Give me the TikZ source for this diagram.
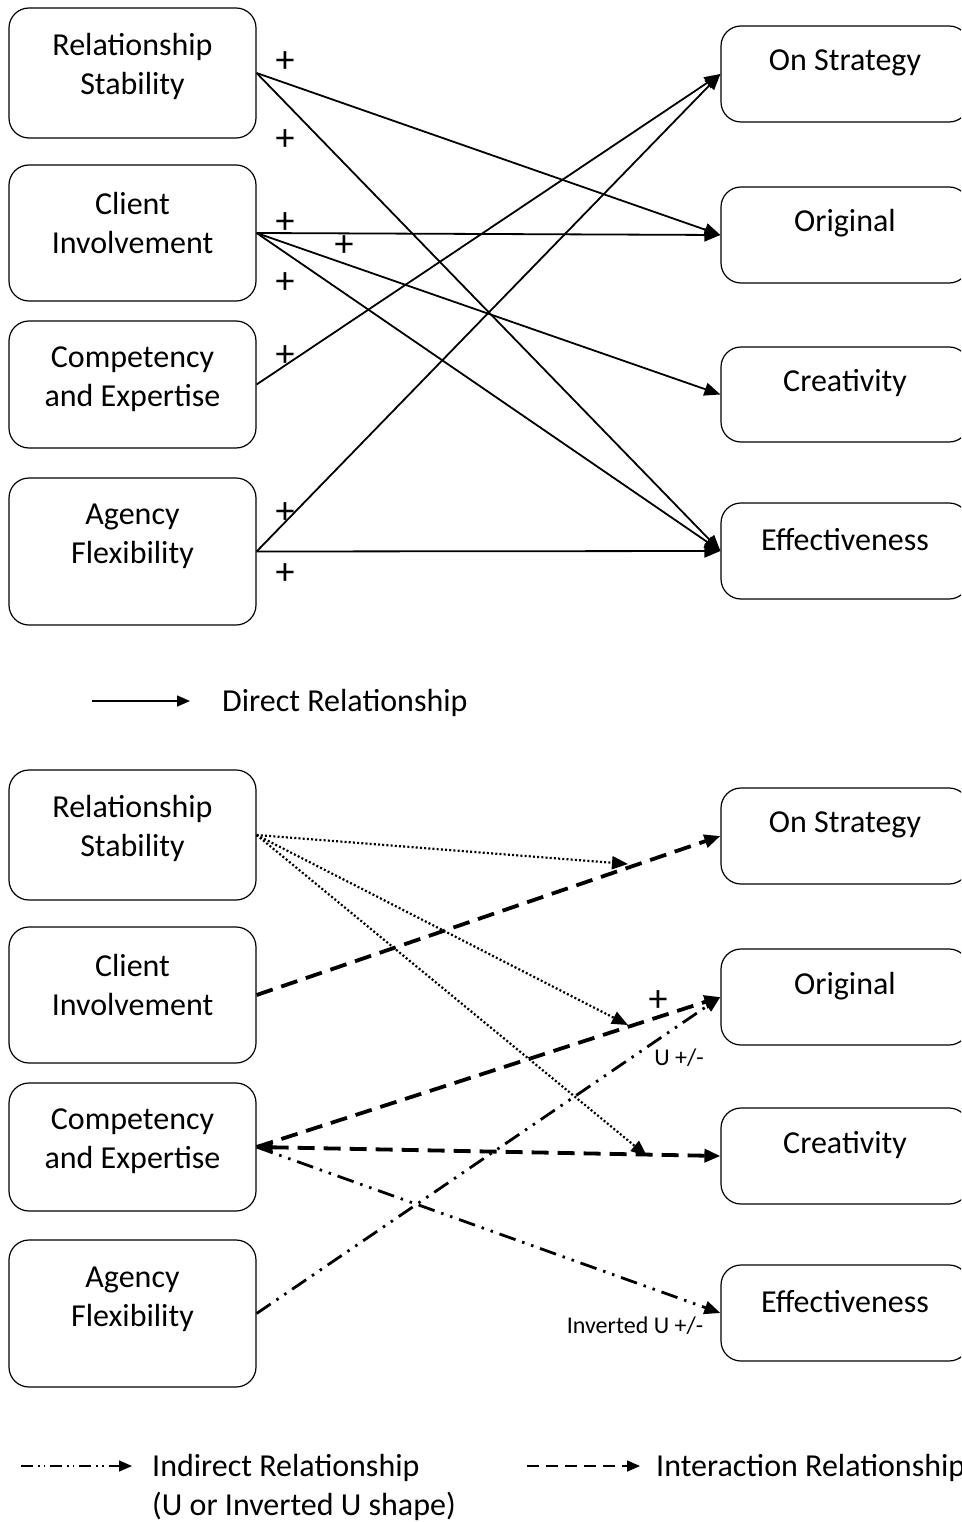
\documentclass[tikz,border=0pt]{standalone}
\usepackage{fontspec}
\setmainfont{Carlito}
\usetikzlibrary{arrows.meta}
\begin{document}
\begin{tikzpicture}[x=1pt,y=-1pt,
  box/.style={draw, line width=1.2pt, rounded corners=20pt, inner sep=0pt},
  lbox/.style={box, minimum width=247pt},
  rbox/.style={box, minimum width=248pt},
  lbl/.style={font=\fontsize{32}{39}\selectfont, align=center, inner sep=0pt},
  pl/.style={font=\fontsize{38}{40}\selectfont, inner sep=0pt},
  sml/.style={font=\fontsize{24}{28}\selectfont, inner sep=0pt},
  tip/.style={-{Triangle[length=16pt,width=13pt]}},
  ltip/.style={-{Triangle[length=13pt,width=11pt]}},
  direct/.style={tip, line width=1.8pt},
  dotrel/.style={tip, line width=2.2pt, dash pattern=on 2pt off 2.2pt},
  interrel/.style={tip, line width=3.8pt, dash pattern=on 17pt off 9pt},
  indirrel/.style={tip, line width=2.8pt, dash pattern=on 17pt off 7pt on 2.5pt off 7pt on 2.5pt off 7pt},
]
\useasboundingbox (0,0) rectangle (961,1522);
\fill[white] (0,0) rectangle (961,1522);
\clip (0,0) rectangle (961,1522);

% ---------- top diagram ----------
\node[lbox, minimum height=130pt] (rs1) at (132.5,73) {};
\node[lbox, minimum height=136pt] (ci1) at (132.5,233) {};
\node[lbox, minimum height=127pt] (ce1) at (132.5,384.5) {};
\node[lbox, minimum height=147pt] (af1) at (132.5,551.5) {};
\node[rbox, minimum height=96pt] (os1) at (845,74) {};
\node[rbox, minimum height=96pt] (or1) at (845,235) {};
\node[rbox, minimum height=95pt] (cr1) at (845,394.5) {};
\node[rbox, minimum height=96pt] (ef1) at (845,551) {};

\node[lbl] (rs1t) at (132.5,66) {Relationship\\Stability};
\node[lbl] (ci1t) at (132.5,223) {Client\\Involvement};
\node[lbl] (ce1t) at (132.5,379) {Competency\\and Expertise};
\node[lbl] (af1t) at (132.5,536) {Agency\\Flexibility};
\node[lbl] (os1t) at (845,62.5) {On Strategy};
\node[lbl] (or1t) at (845,223.5) {Original};
\node[lbl] (cr1t) at (845,383.5) {Creativity};
\node[lbl] (ef1t) at (845,539.5) {Effectiveness};

\draw[direct] (rs1.east) -- (or1.west);
\draw[direct] (rs1.east) -- (ef1.west);
\draw[direct] (ci1.east) -- (or1.west);
\draw[direct] (ci1.east) -- (cr1.west);
\draw[direct] (ci1.east) -- (ef1.west);
\draw[direct] (ce1.east) -- (os1.west);
\draw[direct] (af1.east) -- (os1.west);
\draw[direct] (af1.east) -- (ef1.west);

\node[pl] (p1) at (285,62.5) {+};
\node[pl] (p2) at (285,140.5) {+};
\node[pl] (p3) at (285,223.5) {+};
\node[pl] (p4) at (344,246.5) {+};
\node[pl] (p5) at (285,283.5) {+};
\node[pl] (p6) at (285,356.5) {+};
\node[pl] (p7) at (285,513.5) {+};
\node[pl] (p8) at (285,574.5) {+};

% legend top
\coordinate (lg1a) at (92,701);
\coordinate (lg1b) at (190,701);
\draw[ltip, line width=1.6pt] (lg1a) -- (lg1b);
\node[lbl, anchor=west] (lg1t) at (222,703) {Direct Relationship};

% ---------- bottom diagram ----------
\node[lbox, minimum height=130pt] (rs2) at (132.5,835) {};
\node[lbox, minimum height=136pt] (ci2) at (132.5,995) {};
\node[lbox, minimum height=128pt] (ce2) at (132.5,1147) {};
\node[lbox, minimum height=147pt] (af2) at (132.5,1313.5) {};
\node[rbox, minimum height=96pt] (os2) at (845,836) {};
\node[rbox, minimum height=96pt] (or2) at (845,997) {};
\node[rbox, minimum height=96pt] (cr2) at (845,1156) {};
\node[rbox, minimum height=96pt] (ef2) at (845,1313) {};

\node[lbl] (rs2t) at (132.5,828) {Relationship\\Stability};
\node[lbl] (ci2t) at (132.5,985) {Client\\Involvement};
\node[lbl] (ce2t) at (132.5,1141.5) {Competency\\and Expertise};
\node[lbl] (af2t) at (132.5,1299) {Agency\\Flexibility};
\node[lbl] (os2t) at (845,825) {On Strategy};
\node[lbl] (or2t) at (845,986) {Original};
\node[lbl] (cr2t) at (845,1145) {Creativity};
\node[lbl] (ef2t) at (845,1302) {Effectiveness};

\coordinate (d1) at (628,864);
\coordinate (d2) at (628,1025);
\coordinate (d3) at (647,1156);
\draw[dotrel] (rs2.east) -- (d1);
\draw[dotrel] (rs2.east) -- (d2);
\draw[dotrel] (rs2.east) -- (d3);

\draw[interrel] (ci2.east) -- (os2.west);
\draw[interrel] (ce2.east) -- (or2.west);
\draw[interrel, {Triangle[length=16pt,width=13pt]}-{Triangle[length=16pt,width=13pt]}] (ce2.east) -- (cr2.west);

\draw[indirrel] (af2.east) -- (or2.west);
\draw[indirrel] (ce2.east) -- (ef2.west);

\node[pl] (p9) at (658,1001) {+};
\node[sml] (ulab) at (679,1058) {U +/-};
\node[sml] (iulab) at (635,1326) {Inverted U +/-};

% legend bottom
\coordinate (lg2a) at (21,1466);
\coordinate (lg2b) at (132,1466);
\draw[ltip, line width=1.6pt, dash pattern=on 12pt off 5pt on 1.6pt off 4pt on 1.6pt off 5pt] (lg2a) -- (lg2b);
\node[lbl, anchor=west, align=left] (lg2t) at (152,1487) {Indirect Relationship\\(U or Inverted U shape)};

\coordinate (lg3a) at (527,1466);
\coordinate (lg3b) at (640,1466);
\draw[ltip, line width=1.6pt, dash pattern=on 12pt off 7pt] (lg3a) -- (lg3b);
\node[lbl, anchor=west] (lg3t) at (656,1468) {Interaction Relationship};
\end{tikzpicture}
\end{document}
